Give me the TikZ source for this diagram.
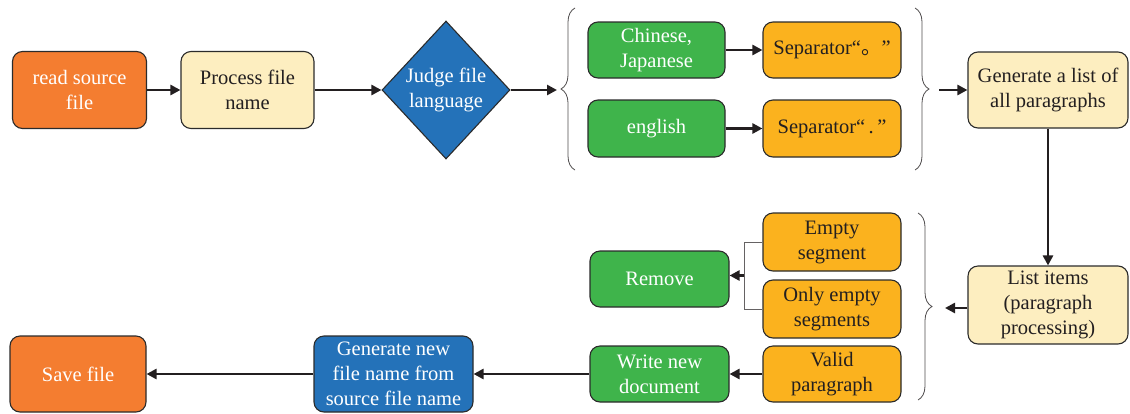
\documentclass[tikz,border=0pt]{standalone}
\usepackage{fontspec}
\setmainfont{Liberation Serif}
\newfontfamily\cjkfont{Noto Sans CJK SC}
\usetikzlibrary{arrows.meta,shapes.geometric,decorations.pathreplacing,calc}

\definecolor{edge}{HTML}{2B2B2B}
\definecolor{cOrange}{HTML}{F47D30}
\definecolor{cCream}{HTML}{FDEEC0}
\definecolor{cBlue}{HTML}{2472B9}
\definecolor{cGreen}{HTML}{3FB44B}
\definecolor{cAmber}{HTML}{FBB21E}
\definecolor{txt}{HTML}{231F20}

\tikzset{
  lbl/.style={align=center, font=\fontsize{20.5}{25}\selectfont},
  box/.style={rectangle, rounded corners=10pt, draw=edge, line width=1.1pt,
    inner sep=0pt, lbl},
  orangebox/.style={box, fill=cOrange, text=white},
  creambox/.style={box, fill=cCream, text=txt},
  bluebox/.style={box, fill=cBlue, text=white},
  greenbox/.style={box, fill=cGreen, text=white},
  amberbox/.style={box, fill=cAmber, text=txt},
  flow/.style={draw=txt, line width=2.6pt, -{Triangle[length=10pt,width=10pt]}},
  bracebar/.style={draw=txt!80, line width=0.8pt, decorate,
    decoration={brace, amplitude=14pt, aspect=0.5}},
  bracket/.style={draw=txt!70, line width=0.9pt},
}

\begin{document}
\begin{tikzpicture}[x=1pt,y=-1pt]
\useasboundingbox (0,0) rectangle (1130,413);

% top row
\node[orangebox, minimum width=134pt, minimum height=77pt] (read) at (79.5,90) {read source\\file};
\node[creambox, minimum width=133pt, minimum height=77pt] (proc) at (247.5,90) {Process file\\name};
\node[diamond, draw=edge, line width=1.1pt, fill=cBlue, minimum width=128pt, minimum height=138pt, inner sep=0pt] (judge) at (446,90) {};
\node[lbl, text=white] (judgetxt) at (judge.center) {Judge file\\language};

\node[greenbox, minimum width=137pt, minimum height=56pt] (chn) at (656.5,50) {Chinese,\\Japanese};
\node[amberbox, minimum width=138pt, minimum height=56pt] (sepa) at (832,50) {Separator“{\cjkfont 。}”};
\node[greenbox, minimum width=137pt, minimum height=57pt] (eng) at (656.5,128.5) {english};
\node[amberbox, minimum width=138pt, minimum height=57pt] (sepb) at (832,128.5) {Separator“\,.\,”};

\node[creambox, minimum width=160pt, minimum height=76pt] (gen) at (1048,90) {Generate a list of\\all paragraphs};

% braces around the language branches
\draw[bracebar] (575,170) -- (575,8);
\draw[bracebar] (915,8) -- (915,170);
\coordinate (ltip) at (557,90);
\coordinate (rtip) at (939,90);

% paragraph handling
\node[creambox, minimum width=160pt, minimum height=78pt] (list) at (1048,305) {List items\\(paragraph\\processing)};
\node[amberbox, minimum width=138pt, minimum height=58pt] (empty) at (832,242) {Empty\\segment};
\node[amberbox, minimum width=138pt, minimum height=58pt] (only) at (832,309) {Only empty\\segments};
\node[amberbox, minimum width=138pt, minimum height=56pt] (valid) at (832,374) {Valid\\paragraph};
\node[greenbox, minimum width=139pt, minimum height=56pt] (remove) at (659.5,279) {Remove};
\node[greenbox, minimum width=139pt, minimum height=56pt] (write) at (659.5,374) {Write new\\document};

\draw[bracebar] (918,213) -- (918,400);
\coordinate (ptip) at (945,308);

% bottom row
\node[bluebox, minimum width=159pt, minimum height=76pt] (newname) at (393.5,374) {Generate new\\file name from\\source file name};
\node[orangebox, minimum width=136pt, minimum height=76pt] (save) at (78,374) {Save file};

% bracket joining the empty cases
\draw[bracket] (empty.west) -- ++(-18,0) coordinate (bk1) |- (only.west);
\coordinate (bk) at ($(bk1)!0.5!(bk1 |- only.west)$);

% connectors
\draw[flow] (read) -- (proc);
\draw[flow] (proc) -- (judge);
\draw[flow] (judge.east) -- (ltip);
\draw[flow] (chn) -- (sepa);
\draw[flow] (eng) -- (sepb);
\draw[flow] (rtip) -- (gen.west);
\draw[flow] (gen.south) -- (list.north);
\draw[flow] (list.west |- ptip) -- (ptip);
\draw[flow] (bk) -- (remove.east |- bk);
\draw[flow] (valid) -- (write);
\draw[flow] (write) -- (newname);
\draw[flow] (newname) -- (save);
\end{tikzpicture}
\end{document}
